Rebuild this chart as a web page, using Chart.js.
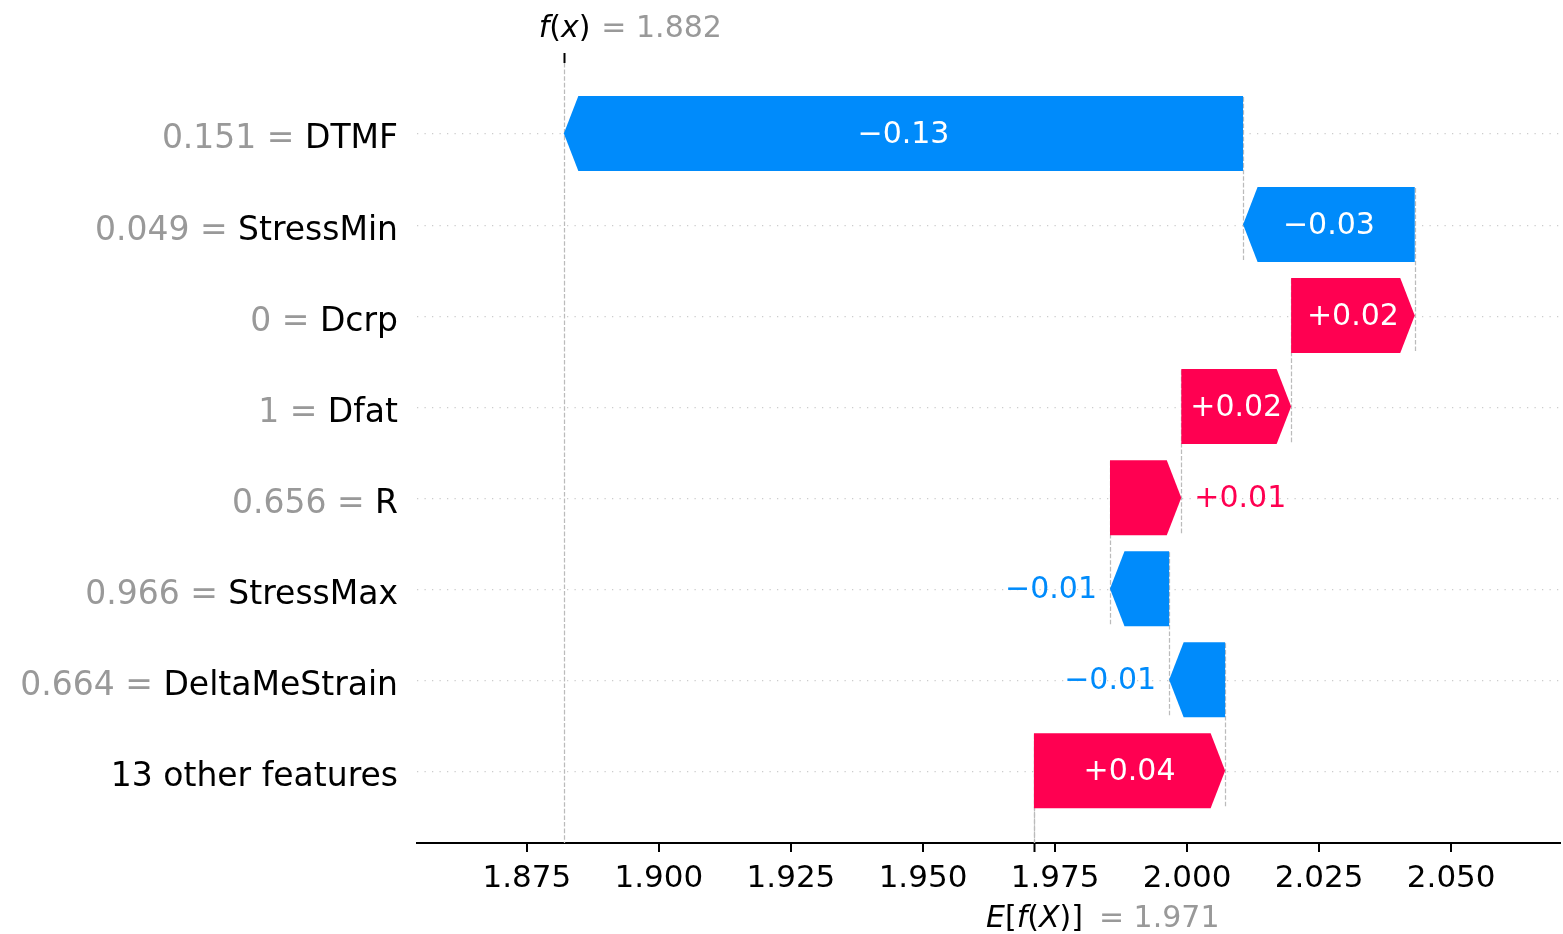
<!DOCTYPE html>
<html>
<head>
<meta charset="utf-8">
<script src="https://cdn.jsdelivr.net/npm/chart.js@4.4.1/dist/chart.umd.min.js"></script>
<style>
  html, body { margin: 0; padding: 0; background: #ffffff; overflow: hidden; }
  #wrap { width: 1563px; height: 934px; }
</style>
</head>
<body>
<div id="wrap"><canvas id="c" width="1563" height="934"></canvas></div>
<script>
// Features, top row first
const featureNames = ["DTMF", "StressMin", "Dcrp", "Dfat", "R", "StressMax", "DeltaMeStrain", "13 other features"];
const featureValues = ["0.151", "0.049", "0", "1", "0.656", "0.966", "0.664", ""];
// SHAP contribution of each feature
const shapValues = [-0.1286, -0.0325, 0.0234, 0.0208, 0.0135, -0.0112, -0.0106, 0.0362];
const baseValue = 1.971;     // E[f(X)]
const outputValue = 1.882;   // f(x)
const xTicks = [1.875, 1.900, 1.925, 1.950, 1.975, 2.000, 2.025, 2.050];
const xRange = [1.8542, 2.0706];

const BLUE = '#008bfb';
const RED = '#ff0051';
const GRAY = '#999999';
const FONT = "'DejaVu Sans'";

// row positions on the y axis (top feature highest)
const rows = featureNames.map((_, i) => featureNames.length - 1 - i);

// waterfall segments: start from the base value at the bottom row and walk up
const segments = new Array(featureNames.length);
let running = baseValue;
for (let i = featureNames.length - 1; i >= 0; i--) {
  const start = running;
  running += shapValues[i];
  segments[i] = [start, running];
}

function fmtContribution(v) {
  const s = Math.abs(v).toFixed(2);
  return (v < 0 ? '\u2212' : '+') + s;
}

function strokeLine(ctx, x1, y1, x2, y2) {
  ctx.beginPath();
  ctx.moveTo(x1, y1);
  ctx.lineTo(x2, y2);
  ctx.stroke();
}

// draws a run of text pieces [text, italic?, color] starting at x
function drawPieces(ctx, pieces, x, y, size) {
  let cx = x;
  pieces.forEach(([t, it, col]) => {
    ctx.font = (it ? 'italic ' : '') + size + 'px ' + FONT;
    ctx.fillStyle = col;
    ctx.fillText(t, cx, y);
    cx += ctx.measureText(t).width;
  });
  return cx;
}
function piecesWidth(ctx, pieces, size) {
  let w = 0;
  pieces.forEach(([t, it]) => {
    ctx.font = (it ? 'italic ' : '') + size + 'px ' + FONT;
    w += ctx.measureText(t).width;
  });
  return w;
}

const waterfallPlugin = {
  id: 'waterfall',
  beforeDatasetsDraw(chart) {
    const { ctx, chartArea: ca, scales: { x, y } } = chart;
    ctx.save();
    ctx.beginPath();
    ctx.rect(ca.left, ca.top, ca.right - ca.left, ca.bottom - ca.top);
    ctx.clip();

    // dotted row guides
    ctx.strokeStyle = '#cccccc';
    ctx.lineWidth = 1.25;
    ctx.setLineDash([1.25, 6.25]);
    rows.forEach(r => {
      const py = Math.round(y.getPixelForValue(r)) + 0.5;
      strokeLine(ctx, ca.left, py, ca.right, py);
    });

    // dashed connectors between consecutive bars
    ctx.strokeStyle = '#bbbbbb';
    ctx.setLineDash([4.6, 2]);
    segments.forEach((s, i) => {
      const px = Math.round(x.getPixelForValue(s[0])) + 0.5;
      strokeLine(ctx, px, y.getPixelForValue(rows[i] + 0.4), px, y.getPixelForValue(rows[i] - 1.4));
    });

    // f(x) reference line over the full height
    const fxPx = Math.round(x.getPixelForValue(outputValue)) + 0.5;
    strokeLine(ctx, fxPx, ca.top, fxPx, ca.bottom);
    // E[f(X)] reference line over the bottom row
    const bPx = Math.round(x.getPixelForValue(baseValue)) + 0.5;
    strokeLine(ctx, bPx, ca.bottom, bPx, ca.bottom - (ca.bottom - ca.top) / featureNames.length);
    ctx.restore();
  },

  afterDatasetsDraw(chart) {
    const { ctx, scales: { x } } = chart;
    const meta = chart.getDatasetMeta(0);
    const headLen = 14.5;
    const labelSize = 30;
    ctx.save();
    meta.data.forEach((el, i) => {
      const [s, e] = segments[i];
      const xs = x.getPixelForValue(s);
      const xe = x.getPixelForValue(e);
      const dir = xe >= xs ? 1 : -1;
      const len = Math.abs(xe - xs);
      const hl = Math.min(headLen, len);
      const top = el.y - el.height / 2;
      const bot = el.y + el.height / 2;
      const color = shapValues[i] >= 0 ? RED : BLUE;

      ctx.fillStyle = color;
      ctx.beginPath();
      ctx.moveTo(xs, top);
      ctx.lineTo(xe - dir * hl, top);
      ctx.lineTo(xe, el.y);
      ctx.lineTo(xe - dir * hl, bot);
      ctx.lineTo(xs, bot);
      ctx.closePath();
      ctx.fill();

      // contribution label: inside when it fits, otherwise beyond the arrow tip
      const txt = fmtContribution(shapValues[i]);
      ctx.font = labelSize + 'px ' + FONT;
      const tw = ctx.measureText(txt).width;
      const by = el.y + 9.5;
      if (tw < len) {
        ctx.fillStyle = '#ffffff';
        ctx.textAlign = 'center';
        ctx.fillText(txt, (xs + xe) / 2, by);
      } else {
        ctx.fillStyle = color;
        if (dir > 0) {
          ctx.textAlign = 'left';
          ctx.fillText(txt, xe + 13, by);
        } else {
          ctx.textAlign = 'right';
          ctx.fillText(txt, xe - 13, by);
        }
      }
    });
    ctx.restore();
  },

  afterDraw(chart) {
    const { ctx, chartArea: ca, scales: { x, y } } = chart;
    ctx.save();
    ctx.textBaseline = 'alphabetic';

    // feature labels: gray "value =" followed by black feature name
    const ySize = 33;
    const rightEdge = ca.left - 19;
    featureNames.forEach((name, i) => {
      const py = y.getPixelForValue(rows[i]) + 15;
      ctx.font = ySize + 'px ' + FONT;
      ctx.textAlign = 'right';
      ctx.fillStyle = '#000000';
      ctx.fillText(name, rightEdge, py);
      if (featureValues[i] !== '') {
        const nw = ctx.measureText(name).width;
        ctx.fillStyle = GRAY;
        ctx.fillText(featureValues[i] + ' = ', rightEdge - nw, py);
      }
    });

    ctx.textAlign = 'left';
    ctx.strokeStyle = '#000000';
    ctx.lineWidth = 2;
    ctx.setLineDash([]);

    // f(x) marker on top
    const fxPx = Math.round(x.getPixelForValue(outputValue)) + 0.5;
    strokeLine(ctx, fxPx, ca.top - 10, fxPx, ca.top);
    const fxPieces = [['f', true, '#000'], ['(', false, '#000'], ['x', true, '#000'], [')', false, '#000']];
    const fw = piecesWidth(ctx, fxPieces, 30);
    let endX = drawPieces(ctx, fxPieces, fxPx - fw / 2, 37, 30);
    drawPieces(ctx, [['= ' + outputValue.toFixed(3), false, GRAY]], endX + 11, 37, 30);

    // E[f(X)] marker at the bottom
    const bPx = Math.round(x.getPixelForValue(baseValue)) + 0.5;
    strokeLine(ctx, bPx, ca.bottom, bPx, ca.bottom + 9);
    const ePieces = [['E', true, '#000'], ['[', false, '#000'], ['f', true, '#000'], ['(', false, '#000'], ['X', true, '#000'], [')', false, '#000'], [']', false, '#000']];
    const ew = piecesWidth(ctx, ePieces, 30);
    endX = drawPieces(ctx, ePieces, bPx - ew / 2, 927, 30);
    drawPieces(ctx, [['= ' + baseValue.toFixed(3), false, GRAY]], endX + 16, 927, 30);

    ctx.restore();
  }
};

new Chart(document.getElementById('c'), {
  type: 'bar',
  data: {
    datasets: [{
      data: segments.map((s, i) => ({ x: s, y: rows[i] })),
      backgroundColor: 'rgba(0,0,0,0)',
      borderWidth: 0,
      barPercentage: 0.824,
      categoryPercentage: 1.0
    }]
  },
  options: {
    indexAxis: 'y',
    responsive: false,
    devicePixelRatio: 1,
    animation: false,
    events: [],
    layout: { padding: { left: 417, right: 3, top: 63, bottom: 0 } },
    plugins: { legend: { display: false }, tooltip: { enabled: false } },
    scales: {
      y: {
        type: 'linear', min: -0.793, max: 7.774, offset: false, display: false,
        afterBuildTicks(scale) { scale.ticks = rows.map(v => ({ value: v })); }
      },
      x: {
        type: 'linear',
        position: 'bottom',
        min: xRange[0],
        max: xRange[1],
        afterFit(scale) { scale.height = 91; },
        afterBuildTicks(scale) { scale.ticks = xTicks.map(v => ({ value: v })); },
        grid: { drawOnChartArea: false, drawTicks: true, tickLength: 9, color: '#000000', lineWidth: 2 },
        border: { display: true, color: '#000000', width: 2 },
        ticks: {
          font: { family: 'DejaVu Sans', size: 31 },
          color: '#000000',
          padding: 8,
          maxRotation: 0,
          autoSkip: false,
          callback: v => Number(v).toFixed(3)
        }
      }
    }
  },
  plugins: [waterfallPlugin]
});
</script>
</body>
</html>
